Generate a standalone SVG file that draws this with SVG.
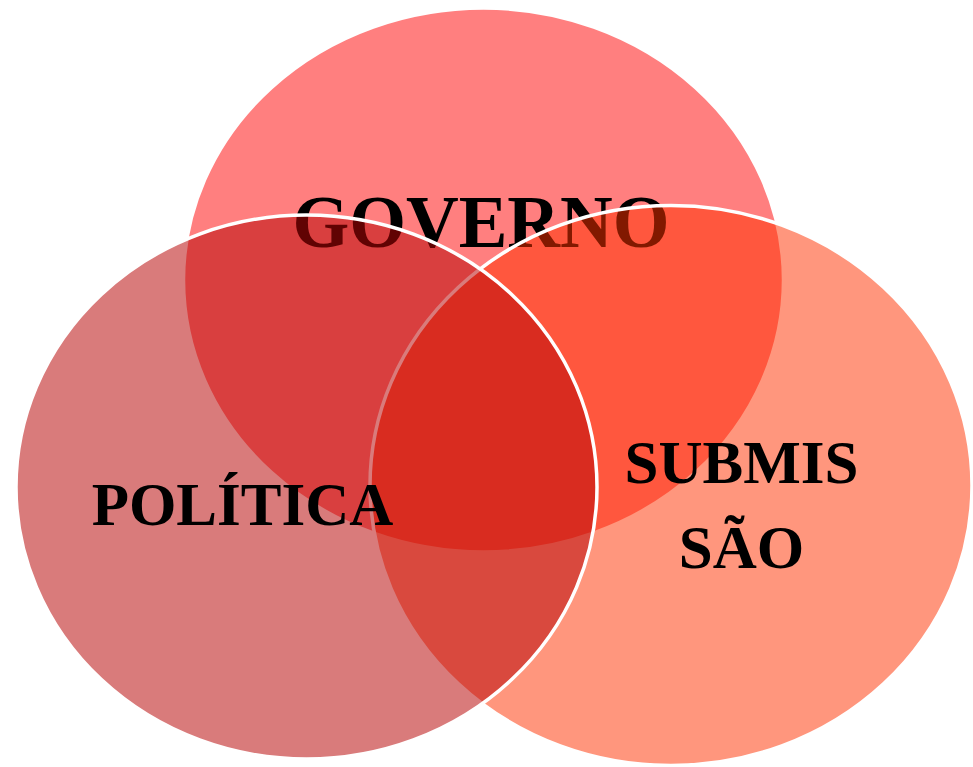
<svg xmlns="http://www.w3.org/2000/svg" width="973" height="767" viewBox="0 0 973 767">
<style>
.set{stroke:#ffffff;stroke-width:3.5}
.lbl{font-family:"Liberation Serif","Times New Roman",serif;font-weight:bold;fill:#000000;text-anchor:middle}
</style>
<rect width="973" height="767" fill="#ffffff"/>
<g id="governo">
<ellipse class="set" cx="483.5" cy="280" rx="300" ry="272" fill="#FF7F7F"/>
<text class="lbl" x="481" y="247" font-size="73">GOVERNO</text>
</g>
<g id="submissao">
<ellipse class="set" cx="671" cy="485.5" rx="301" ry="280" fill="#FF3100" fill-opacity="0.51"/>
</g>
<g id="politica">
<ellipse class="set" cx="306.5" cy="487" rx="290.5" ry="272" fill="#B70606" fill-opacity="0.53"/>
</g>
<g id="labels">
<text class="lbl" x="242.5" y="525" font-size="61">POLÍTICA</text>
<text class="lbl" x="741.5" y="483" font-size="61">SUBMIS</text>
<text class="lbl" x="741.5" y="568" font-size="61">SÃO</text>
</g>
<g id="connectors"></g>
</svg>
